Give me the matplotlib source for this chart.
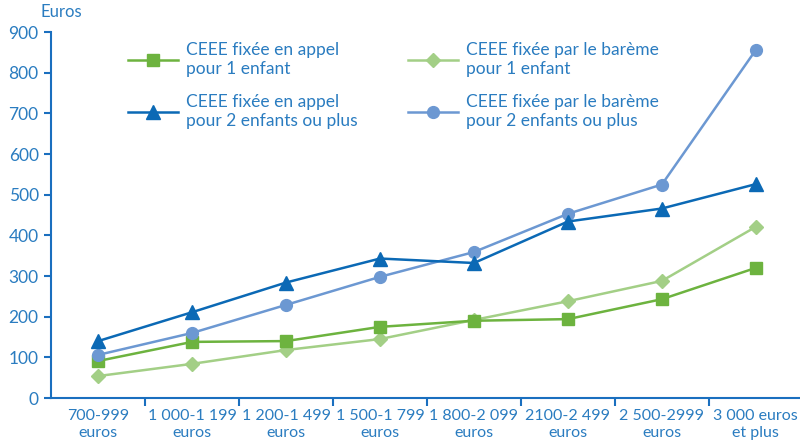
import matplotlib.pyplot as plt

categories = ["700-999\neuros", "1 000-1 199\neuros", "1 200-1 499\neuros",
              "1 500-1 799\neuros", "1 800-2 099\neuros", "2100-2 499\neuros",
              "2 500-2999\neuros", "3 000 euros\net plus"]

appel_1 = [91, 138, 140, 175, 190, 194, 243, 320]
bareme_1 = [54, 84, 118, 145, 192, 238, 288, 421]
appel_2 = [140, 211, 284, 343, 332, 434, 466, 526]
bareme_2 = [106, 160, 229, 298, 359, 453, 525, 856]

text_col = "#2a7cc0"
axis_col = "#1a6fbf"

plt.rcParams['font.family'] = ['Lato', 'DejaVu Sans']

fig = plt.figure(figsize=(8, 4.46), dpi=100)
ax = fig.add_axes([0.064, 0.1076, 0.936, 0.8206])

x = range(len(categories))
l1, = ax.plot(x, appel_1, color="#6db33f", lw=1.8, marker="s", ms=8.5,
              label="CEEE fixée en appel\npour 1 enfant", zorder=4)
l3, = ax.plot(x, bareme_1, color="#a3cf86", lw=1.8, marker="D", ms=7,
              label="CEEE fixée par le barème\npour 1 enfant", zorder=3)
l2, = ax.plot(x, appel_2, color="#0b69b5", lw=1.8, marker="^", ms=9.5,
              label="CEEE fixée en appel\npour 2 enfants ou plus", zorder=5)
l4, = ax.plot(x, bareme_2, color="#6c98d2", lw=1.8, marker="o", ms=8.5,
              label="CEEE fixée par le barème\npour 2 enfants ou plus", zorder=4)

ax.set_xlim(-0.5, 7.47)
ax.set_ylim(0, 900)
ax.set_yticks(range(0, 901, 100))

# category labels centred, ticks at the boundaries
ax.set_xticks(list(x))
ax.set_xticklabels(categories, color=text_col, fontsize=11.5, linespacing=1.3)
ax.tick_params(axis='x', length=0, pad=8)
ax.set_xticks([i + 0.5 for i in range(7)], minor=True)
ax.tick_params(axis='x', which='minor', length=6, width=1.5, color=axis_col, direction='out')
ax.tick_params(axis='y', length=5, width=1.5, color=axis_col, labelcolor=text_col,
               labelsize=12.5, pad=4)

for s in ['top', 'right']:
    ax.spines[s].set_visible(False)
for s in ['left', 'bottom']:
    ax.spines[s].set_color(axis_col)
    ax.spines[s].set_linewidth(1.5)

fig.text(0.05, 0.963, "Euros", color=text_col, fontsize=12)

leg = ax.legend(handles=[l1, l2, l3, l4], ncol=2, loc='upper left',
                bbox_to_anchor=(0.16, 0.905), bbox_transform=fig.transFigure,
                frameon=False, fontsize=12.5, borderpad=0, borderaxespad=0,
                handlelength=2.9, handletextpad=0.45, columnspacing=2.9,
                labelspacing=1.0, labelcolor=text_col)

fig.savefig("out.png", dpi=100)
